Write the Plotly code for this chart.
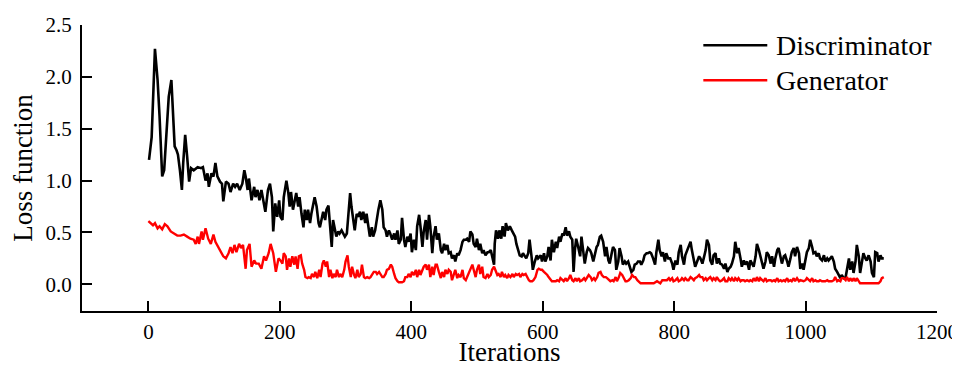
import plotly.graph_objects as go

# Discriminator loss (iteration, value)
d_iter = [1, 5, 10, 14, 17, 21, 24, 27, 31, 35, 37, 40, 43, 45, 48, 51, 53, 56, 59, 62, 65, 69, 75, 80, 83, 87, 90, 92, 96, 99,
          102, 105, 109, 112, 114, 118, 122, 125, 129, 132, 135, 139, 143, 146, 148, 151, 153, 157, 161, 163, 166, 169, 172, 176, 178, 182, 185, 188, 190, 193, 196, 199,
          201, 204, 206, 210, 213, 215, 217, 220, 223, 225, 228, 230, 233, 236, 238, 241, 243, 246, 248, 251, 253, 256, 259, 261, 264, 266, 269, 271, 274, 276, 279, 281, 284, 286, 289, 291, 294, 296, 299,
          302, 304, 307, 309, 312, 314, 317, 319, 322, 324, 327, 330, 332, 335, 337, 340, 342, 345, 347, 350, 353, 356, 358, 361, 363, 366, 368, 371, 374, 376, 379, 381, 384, 386, 389,
          391, 394, 396, 399, 401, 404, 407, 409, 412, 414, 417, 419, 422, 424, 427, 429, 432, 434, 437, 439, 442, 445, 447, 450, 452, 455, 457, 460, 462, 465, 467, 470, 472, 475, 478, 480, 483, 485, 488, 490, 493, 495, 498,
          500, 503, 505, 508, 510, 513, 516, 518, 521, 523, 526, 527, 529, 532, 534, 537, 539, 542, 544, 547, 550, 553, 555, 558, 560, 563, 565, 568, 570, 573, 575, 578, 580, 583, 585, 588, 591, 593,
          597, 599, 602, 604, 607, 609, 612, 614, 617, 620, 622, 625, 627, 630, 632, 635, 637, 640, 642, 645, 647, 649, 651, 654, 657, 659, 662, 664, 667, 669, 672, 674, 677, 679, 682, 684, 687, 689, 692, 695, 697,
          700, 702, 705, 707, 710, 712, 715, 717, 720, 722, 725, 727, 730, 733, 735, 738, 740, 743, 745, 748, 750, 753, 755, 758, 760, 763, 765, 768, 771, 773, 776, 778, 781, 783, 786, 788, 791,
          794, 797, 799, 802, 805, 807, 810, 812, 815, 817, 820, 822, 825, 827, 830, 832, 835, 838, 840, 843, 845, 848, 850, 853, 855, 858, 860, 863, 865, 868, 870, 873, 876, 878, 881, 883, 886, 888, 891, 893, 896, 898,
          901, 903, 906, 908, 911, 914, 916, 919, 921, 924, 926, 929, 931, 934, 936, 939, 941, 944, 947, 949, 952, 954, 957, 959, 962, 964, 967, 969, 972, 974, 977, 979, 982, 984, 987, 990,
          992, 995, 997, 1000, 1002, 1005, 1007, 1010, 1012, 1015, 1017, 1020, 1022, 1025, 1028, 1030, 1033, 1035, 1038, 1040, 1043, 1045, 1048, 1050, 1053, 1055, 1058, 1061, 1063, 1066, 1068, 1071, 1073, 1076, 1078,
          1081, 1083, 1086, 1088, 1091, 1093, 1096, 1099, 1101, 1104, 1106, 1109, 1111, 1114, 1116, 1119]
d_loss = [1.20, 1.42, 2.27, 1.97, 1.62, 1.04, 1.10, 1.42, 1.81, 1.97, 1.65, 1.33, 1.29, 1.25, 1.10, 0.91, 1.17, 1.44, 1.23, 0.99, 1.12, 1.10, 1.13, 1.12, 1.13, 1.00, 1.07, 0.94, 1.07, 1.04,
          1.17, 1.04, 0.99, 0.97, 0.80, 0.99, 0.97, 0.89, 0.97, 0.94, 0.97, 0.91, 0.97, 1.10, 1.04, 0.91, 1.02, 0.81, 0.94, 0.84, 0.91, 0.81, 0.91, 0.78, 0.70, 0.91, 0.97, 0.84, 0.51, 0.78, 0.65, 0.81,
          0.65, 0.62, 0.84, 1.00, 0.88, 0.75, 0.89, 0.72, 0.84, 0.88, 0.75, 0.84, 0.68, 0.55, 0.72, 0.62, 0.72, 0.59, 0.68, 0.80, 0.84, 0.75, 0.59, 0.55, 0.65, 0.70, 0.62, 0.72, 0.76, 0.62, 0.36, 0.62, 0.52, 0.46, 0.51, 0.49, 0.52, 0.49, 0.46,
          0.49, 0.68, 0.88, 0.75, 0.59, 0.52, 0.68, 0.65, 0.70, 0.62, 0.70, 0.59, 0.68, 0.55, 0.46, 0.55, 0.46, 0.52, 0.62, 0.72, 0.81, 0.72, 0.55, 0.52, 0.46, 0.52, 0.49, 0.43, 0.49, 0.43, 0.52, 0.39, 0.43, 0.64, 0.43,
          0.36, 0.46, 0.41, 0.49, 0.31, 0.43, 0.33, 0.56, 0.67, 0.56, 0.36, 0.51, 0.62, 0.43, 0.67, 0.56, 0.30, 0.46, 0.56, 0.43, 0.49, 0.33, 0.30, 0.39, 0.33, 0.38, 0.30, 0.31, 0.25, 0.28, 0.22, 0.30, 0.28, 0.33, 0.41, 0.43, 0.43, 0.44, 0.41, 0.51, 0.48, 0.39, 0.36,
          0.44, 0.33, 0.39, 0.30, 0.33, 0.28, 0.31, 0.31, 0.33, 0.28, 0.19, 0.39, 0.52, 0.44, 0.52, 0.44, 0.56, 0.46, 0.59, 0.52, 0.56, 0.52, 0.49, 0.46, 0.39, 0.33, 0.28, 0.27, 0.30, 0.27, 0.25, 0.30, 0.43, 0.27, 0.14, 0.22, 0.28, 0.25,
          0.28, 0.22, 0.30, 0.22, 0.27, 0.36, 0.23, 0.43, 0.31, 0.41, 0.35, 0.46, 0.41, 0.49, 0.47, 0.55, 0.47, 0.51, 0.46, 0.43, 0.12, 0.33, 0.44, 0.36, 0.27, 0.46, 0.28, 0.20, 0.31, 0.35, 0.33, 0.30, 0.22, 0.27, 0.36, 0.38, 0.46, 0.47, 0.41, 0.27, 0.36,
          0.23, 0.20, 0.30, 0.36, 0.33, 0.14, 0.22, 0.35, 0.27, 0.19, 0.22, 0.20, 0.22, 0.17, 0.12, 0.14, 0.19, 0.20, 0.22, 0.22, 0.19, 0.23, 0.28, 0.30, 0.30, 0.31, 0.30, 0.25, 0.19, 0.31, 0.43, 0.33, 0.27, 0.31, 0.22, 0.30, 0.25,
          0.25, 0.20, 0.14, 0.23, 0.19, 0.31, 0.38, 0.27, 0.19, 0.28, 0.33, 0.36, 0.41, 0.33, 0.22, 0.17, 0.22, 0.27, 0.25, 0.20, 0.25, 0.33, 0.43, 0.38, 0.23, 0.19, 0.28, 0.30, 0.20, 0.25, 0.20, 0.19, 0.15, 0.20, 0.12, 0.15, 0.17, 0.20, 0.27, 0.41, 0.30, 0.35,
          0.25, 0.17, 0.23, 0.19, 0.22, 0.14, 0.23, 0.20, 0.17, 0.27, 0.39, 0.33, 0.28, 0.22, 0.15, 0.22, 0.31, 0.28, 0.20, 0.27, 0.17, 0.25, 0.33, 0.35, 0.25, 0.20, 0.27, 0.28, 0.22, 0.17, 0.25, 0.31, 0.35, 0.27, 0.36, 0.30,
          0.15, 0.20, 0.14, 0.23, 0.31, 0.35, 0.43, 0.36, 0.30, 0.31, 0.27, 0.30, 0.25, 0.23, 0.28, 0.22, 0.25, 0.23, 0.25, 0.27, 0.22, 0.15, 0.12, 0.09, 0.06, 0.09, 0.06, 0.07, 0.14, 0.25, 0.14, 0.22, 0.11, 0.22, 0.38,
          0.27, 0.11, 0.23, 0.30, 0.25, 0.23, 0.28, 0.22, 0.11, 0.07, 0.31, 0.30, 0.22, 0.28, 0.25, 0.25]

# Generator loss (iteration, value)
g_iter = [0, 4, 7, 10, 14, 17, 21, 25, 29, 34, 39, 44, 49, 54, 59, 64, 69, 72, 75, 77, 81, 83, 87, 91, 95, 99,
          102, 106, 110, 114, 118, 122, 125, 128, 131, 134, 138, 141, 144, 148, 150, 154, 157, 161, 164, 168, 172, 176, 179, 183, 186, 190, 194, 198,
          201, 204, 206, 209, 211, 214, 216, 219, 222, 224, 227, 229, 232, 234, 237, 239, 242, 244, 247, 249, 252, 254, 257, 260, 262, 265, 267, 270, 272, 275, 277, 280, 282, 285, 287, 290, 292, 295, 298,
          300, 303, 305, 308, 310, 313, 315, 318, 320, 323, 325, 328, 330, 333, 336, 338, 341, 343, 346, 348, 351, 353, 356, 358, 361, 363, 366, 369, 371, 374, 376, 379, 381, 384, 386, 389,
          391, 394, 396, 399, 401, 404, 407, 409, 412, 414, 417, 419, 422, 424, 427, 429, 432, 434, 437, 439, 442, 445, 447, 450, 452, 455, 457, 460, 462, 465, 467, 470, 472, 475, 478, 480, 483, 485, 488, 490, 493, 495, 498,
          500, 503, 505, 508, 510, 513, 516, 518, 521, 523, 526, 528, 531, 533, 536, 538, 541, 543, 546, 548, 551, 554, 556, 559, 561, 564, 566, 569, 571, 574, 576, 579, 581, 584, 586, 589, 592, 594,
          597, 599, 602, 604, 607, 609, 612, 614, 617, 620, 622, 625, 627, 630, 632, 635, 637, 640, 642, 645, 647, 650, 652, 655, 657, 660, 663, 665, 668, 670, 673, 675, 678, 680, 683, 685, 688, 690, 693, 696, 698,
          701, 703, 706, 708, 711, 713, 716, 718, 721, 723, 726, 728, 731, 734, 736, 739, 741, 744, 746, 749, 754, 759, 764, 769, 774, 779, 782, 784, 787, 789, 792,
          794, 797, 799, 802, 805, 807, 810, 812, 815, 817, 820, 822, 825, 827, 830, 832, 835, 838, 840, 843, 845, 848, 850, 853, 855, 858, 860, 863, 865, 868, 870, 873, 876, 878, 881, 883, 886, 888, 891, 893, 896, 898,
          901, 903, 906, 908, 911, 914, 916, 919, 921, 924, 926, 929, 931, 934, 936, 939, 941, 944, 947, 949, 952, 954, 957, 959, 962, 964, 967, 969, 972, 974, 977, 979, 982, 984, 987, 990,
          992, 997, 1000, 1002, 1005, 1007, 1010, 1012, 1015, 1017, 1020, 1022, 1025, 1028, 1030, 1033, 1035, 1038, 1040, 1043, 1045, 1048, 1050, 1053, 1055, 1058, 1061, 1063, 1066, 1068, 1071, 1073, 1076, 1078,
          1081, 1083, 1088, 1093, 1099, 1104, 1109, 1111, 1114, 1116, 1119]
g_loss = [0.61, 0.59, 0.57, 0.59, 0.54, 0.56, 0.53, 0.58, 0.56, 0.51, 0.49, 0.47, 0.47, 0.48, 0.46, 0.44, 0.43, 0.39, 0.46, 0.39, 0.51, 0.43, 0.54, 0.44, 0.39, 0.48,
          0.41, 0.36, 0.31, 0.27, 0.25, 0.30, 0.36, 0.30, 0.38, 0.31, 0.39, 0.35, 0.38, 0.15, 0.33, 0.39, 0.17, 0.23, 0.20, 0.20, 0.15, 0.27, 0.23, 0.30, 0.39, 0.30, 0.12, 0.25,
          0.23, 0.20, 0.30, 0.27, 0.14, 0.25, 0.17, 0.27, 0.19, 0.27, 0.15, 0.27, 0.28, 0.20, 0.14, 0.07, 0.06, 0.07, 0.06, 0.10, 0.07, 0.12, 0.06, 0.14, 0.07, 0.20, 0.23, 0.17, 0.22, 0.07, 0.14, 0.06, 0.10, 0.07, 0.14, 0.07, 0.10, 0.07, 0.14,
          0.22, 0.28, 0.17, 0.07, 0.17, 0.09, 0.06, 0.14, 0.07, 0.10, 0.19, 0.07, 0.06, 0.07, 0.06, 0.07, 0.10, 0.12, 0.12, 0.10, 0.12, 0.10, 0.07, 0.07, 0.10, 0.14, 0.15, 0.19, 0.17, 0.10, 0.06, 0.03, 0.02, 0.02, 0.02, 0.03,
          0.07, 0.07, 0.10, 0.07, 0.12, 0.09, 0.14, 0.07, 0.14, 0.09, 0.14, 0.17, 0.19, 0.14, 0.19, 0.07, 0.17, 0.09, 0.19, 0.19, 0.12, 0.06, 0.12, 0.07, 0.14, 0.10, 0.14, 0.12, 0.04, 0.09, 0.14, 0.06, 0.09, 0.07, 0.14, 0.06, 0.04, 0.07, 0.12, 0.14, 0.19, 0.14, 0.07,
          0.14, 0.19, 0.10, 0.17, 0.07, 0.06, 0.10, 0.07, 0.09, 0.14, 0.17, 0.14, 0.09, 0.10, 0.07, 0.12, 0.07, 0.09, 0.06, 0.09, 0.07, 0.10, 0.07, 0.10, 0.09, 0.10, 0.07, 0.10, 0.09, 0.10, 0.07, 0.04, 0.03, 0.03, 0.04, 0.07, 0.14, 0.15,
          0.14, 0.14, 0.12, 0.11, 0.09, 0.07, 0.04, 0.03, 0.03, 0.03, 0.04, 0.03, 0.06, 0.04, 0.03, 0.06, 0.03, 0.06, 0.09, 0.04, 0.03, 0.06, 0.03, 0.06, 0.03, 0.04, 0.06, 0.04, 0.07, 0.09, 0.07, 0.04, 0.06, 0.04, 0.07, 0.11, 0.12, 0.09, 0.07, 0.07, 0.06,
          0.04, 0.03, 0.04, 0.03, 0.07, 0.03, 0.07, 0.11, 0.09, 0.06, 0.03, 0.03, 0.04, 0.06, 0.09, 0.07, 0.07, 0.04, 0.03, 0.01, 0.01, 0.01, 0.01, 0.01, 0.03, 0.01, 0.04, 0.04, 0.04, 0.04, 0.06,
          0.04, 0.06, 0.03, 0.04, 0.06, 0.03, 0.04, 0.06, 0.04, 0.06, 0.04, 0.04, 0.07, 0.06, 0.04, 0.06, 0.07, 0.09, 0.07, 0.07, 0.04, 0.06, 0.04, 0.06, 0.07, 0.04, 0.06, 0.04, 0.07, 0.04, 0.03, 0.04, 0.06, 0.03, 0.03, 0.06, 0.04, 0.06, 0.03, 0.06, 0.04, 0.06,
          0.03, 0.04, 0.04, 0.03, 0.04, 0.03, 0.04, 0.03, 0.06, 0.03, 0.07, 0.03, 0.06, 0.04, 0.03, 0.06, 0.03, 0.04, 0.04, 0.03, 0.04, 0.03, 0.06, 0.03, 0.04, 0.03, 0.04, 0.03, 0.06, 0.03, 0.04, 0.03, 0.06, 0.03, 0.06, 0.03,
          0.04, 0.03, 0.04, 0.06, 0.04, 0.03, 0.06, 0.03, 0.04, 0.03, 0.03, 0.04, 0.03, 0.03, 0.03, 0.04, 0.03, 0.03, 0.03, 0.04, 0.07, 0.03, 0.04, 0.03, 0.06, 0.06, 0.04, 0.07, 0.03, 0.06, 0.03, 0.06, 0.03, 0.06,
          0.03, 0.01, 0.01, 0.01, 0.01, 0.01, 0.01, 0.01, 0.03, 0.06, 0.07]

x_ticks = [0, 200, 400, 600, 800, 1000, 1200]
y_ticks = [0.0, 0.5, 1.0, 1.5, 2.0, 2.5]
series_names = ["Discriminator", "Generator"]
series_colors = ["#000000", "#ff0000"]

FONT = "Liberation Serif, Times New Roman, serif"

fig = go.Figure()
fig.add_trace(go.Scatter(x=d_iter, y=d_loss, mode="lines", name=series_names[0],
                         line=dict(color=series_colors[0], width=2.6)))
fig.add_trace(go.Scatter(x=g_iter, y=g_loss, mode="lines", name=series_names[1],
                         line=dict(color=series_colors[1], width=2.4)))

axis_common = dict(showgrid=False, zeroline=False, showline=True, linecolor="black", linewidth=2,
                   ticks="inside", ticklen=10, tickwidth=2, tickcolor="black", automargin=False,
                   tickfont=dict(family=FONT, size=21, color="black"))

fig.update_xaxes(range=[-101, 1200], tickvals=x_ticks, ticklabelstandoff=1,
                 title=dict(text="Iterations", font=dict(family=FONT, size=27, color="black"), standoff=15),
                 **axis_common)
fig.update_yaxes(range=[-0.257, 2.5], tickvals=y_ticks, tickformat=".1f", ticklabelstandoff=4,
                 title=dict(text="Loss function", font=dict(family=FONT, size=27, color="black"), standoff=12),
                 **axis_common)

# legend drawn as line samples + text, placed in plot-area (paper) coordinates
leg_x0, leg_x1, leg_tx = 0.7267, 0.8015, 0.8097
leg_y = [0.929, 0.807]
for name, color, yy in zip(series_names, series_colors, leg_y):
    fig.add_shape(type="line", xref="paper", yref="paper", x0=leg_x0, x1=leg_x1, y0=yy, y1=yy,
                  line=dict(color=color, width=2.6))
    fig.add_annotation(xref="paper", yref="paper", x=leg_tx, y=yy, text=name, showarrow=False,
                       xanchor="left", yanchor="middle", font=dict(family=FONT, size=28, color="black"))

# the page body adds an 8 px offset, so the figure is sized to the visible area
fig.update_layout(width=952, height=359, margin=dict(l=74, r=23, t=17, b=56),
                  plot_bgcolor="white", paper_bgcolor="white", showlegend=False,
                  font=dict(family=FONT, color="black"))

fig.write_html("out.html")
